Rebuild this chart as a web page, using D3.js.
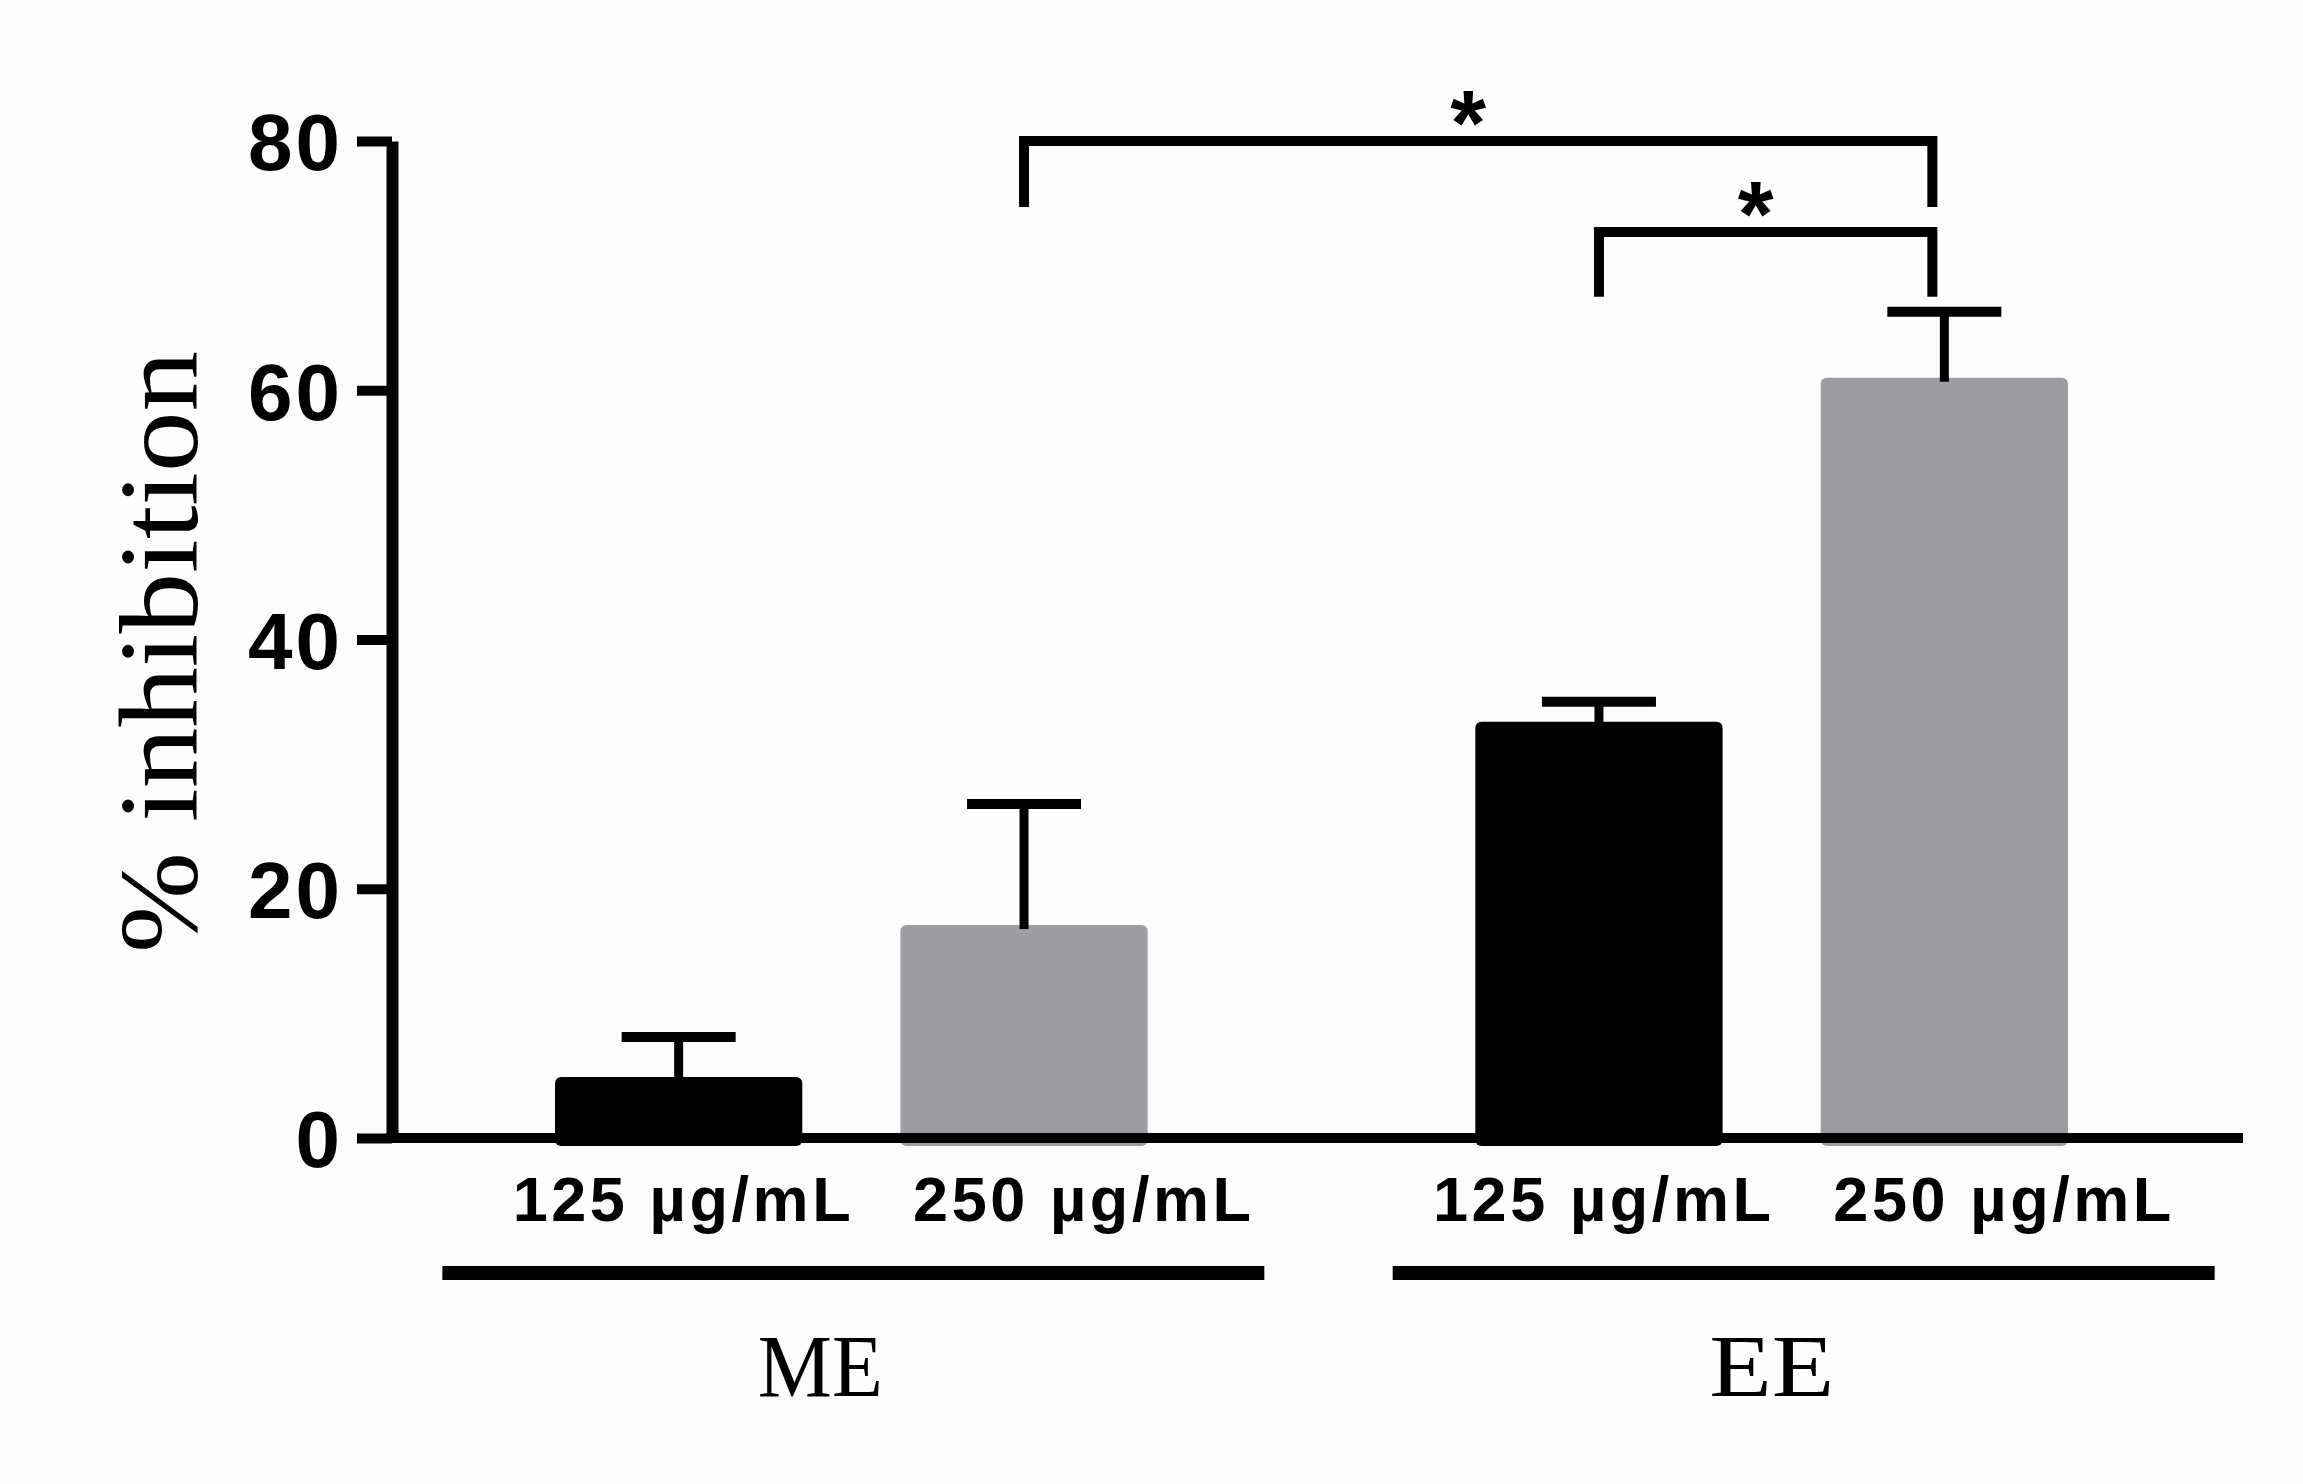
<!DOCTYPE html>
<html>
<head>
<meta charset="utf-8">
<script src="https://cdn.jsdelivr.net/npm/d3@7"></script>
<style>
  body { margin: 0; background: #fdfdfd; }
  svg { display: block; }
</style>
</head>
<body>
<svg id="chart"></svg>
<script>
let groups = ["ME", "EE"]
let doses = ["125 µg/mL", "250 µg/mL"]

// mean % inhibition and SEM, one entry per dose
let me_means = [4.9, 17.1]
let me_errs = [3.2, 9.7]
let ee_means = [33.4, 61.0]
let ee_errs = [1.6, 5.3]

let y_ticks = [0, 20, 40, 60, 80]

// significance brackets: [group, dose] ends, top level and drop level in % units
let brackets = [
    {from: ["ME", "250 µg/mL"], to: ["EE", "250 µg/mL"], top: 80, drop: 74.7, mark: "*"},
    {from: ["EE", "125 µg/mL"], to: ["EE", "250 µg/mL"], top: 72.7, drop: 67.5, mark: "*"}
]

let bar_colors = ["#000000", "#9d9ca1"]

let rows = []
groups.forEach((g, gi) => {
    let means = gi == 0 ? me_means : ee_means
    let errs = gi == 0 ? me_errs : ee_errs
    doses.forEach((d, di) => rows.push({group: g, dose: d, di: di, mean: means[di], err: errs[di]}))
})

let w = 2303, h = 1484
let axis_x = 392, axis_end = 2243

let svg = d3.select("#chart").attr("width", w).attr("height", h)

let y = d3.scaleLinear().domain([0, 80]).range([1138, 141])

let x_group = d3.scaleBand().domain(groups).range([555, 2068]).paddingInner(0.356).paddingOuter(0)
let x_dose = d3.scaleBand().domain(doses).range([0, x_group.bandwidth()]).paddingInner(0.284).paddingOuter(0)

let center = (g, d) => x_group(g) + x_dose(d) + x_dose.bandwidth() / 2

// bars
svg.selectAll(".bar")
    .data(rows)
    .enter()
    .append("rect")
    .attr("class", "bar")
    .attr("x", d => x_group(d.group) + x_dose(d.dose))
    .attr("y", d => y(d.mean))
    .attr("width", x_dose.bandwidth())
    .attr("height", d => y(0) - y(d.mean) + 8)
    .attr("rx", 6)
    .attr("fill", d => bar_colors[d.di])

// error bars (upper only)
let err = svg.selectAll(".err")
    .data(rows)
    .enter()
    .append("g")
    .attr("class", "err")

err.append("line")
    .attr("x1", d => center(d.group, d.dose))
    .attr("x2", d => center(d.group, d.dose))
    .attr("y1", d => y(d.mean) + 4)
    .attr("y2", d => y(d.mean + d.err))
    .attr("stroke", "#000")
    .attr("stroke-width", 9)

err.append("line")
    .attr("x1", d => center(d.group, d.dose) - 57)
    .attr("x2", d => center(d.group, d.dose) + 57)
    .attr("y1", d => y(d.mean + d.err))
    .attr("y2", d => y(d.mean + d.err))
    .attr("stroke", "#000")
    .attr("stroke-width", 10)

// y axis
let y_axis = svg.append("g")
    .attr("transform", `translate(${axis_x},0)`)
    .call(d3.axisLeft(y).tickValues(y_ticks).tickSize(35).tickSizeOuter(0).tickPadding(14))

y_axis.select(".domain").attr("stroke", "#000").attr("stroke-width", 12)
y_axis.selectAll(".tick line").attr("stroke", "#000").attr("stroke-width", 10)
y_axis.selectAll(".tick text")
    .attr("fill", "#000")
    .attr("font-family", "'Liberation Sans', Arial, sans-serif")
    .attr("font-weight", "bold")
    .attr("font-size", 80)
    .attr("letter-spacing", 3)
    .attr("dy", "0.36em")

// x axis line
svg.append("line")
    .attr("x1", axis_x - 6)
    .attr("x2", axis_end)
    .attr("y1", y(0))
    .attr("y2", y(0))
    .attr("stroke", "#000")
    .attr("stroke-width", 10)

// dose labels under each bar
let label_shift = [3, 58]
svg.selectAll(".dose-label")
    .data(rows)
    .enter()
    .append("text")
    .attr("class", "dose-label")
    .attr("x", d => center(d.group, d.dose) + label_shift[d.di])
    .attr("y", 1221)
    .attr("text-anchor", "middle")
    .attr("font-family", "'Liberation Sans', Arial, sans-serif")
    .attr("font-weight", "bold")
    .attr("font-size", 63)
    .attr("textLength", 338)
    .attr("lengthAdjust", "spacing")
    .text(d => d.dose)

// group underline bars and names
let line_shift = [2, 32]
let name_shift = [-31, 0]
let group_g = svg.selectAll(".group")
    .data(groups)
    .enter()
    .append("g")
    .attr("class", "group")

group_g.append("line")
    .attr("x1", (g, i) => x_group(g) + x_group.bandwidth() / 2 - 411 + line_shift[i])
    .attr("x2", (g, i) => x_group(g) + x_group.bandwidth() / 2 + 411 + line_shift[i])
    .attr("y1", 1273)
    .attr("y2", 1273)
    .attr("stroke", "#000")
    .attr("stroke-width", 14)

group_g.append("text")
    .attr("x", (g, i) => x_group(g) + x_group.bandwidth() / 2 + name_shift[i])
    .attr("y", 1396)
    .attr("text-anchor", "middle")
    .attr("font-family", "'Liberation Serif', 'Times New Roman', serif")
    .attr("font-size", 88)
    .attr("textLength", 125)
    .attr("lengthAdjust", "spacingAndGlyphs")
    .text(g => g)

// y axis title
svg.append("text")
    .attr("transform", "translate(197,652) rotate(-90)")
    .attr("text-anchor", "middle")
    .attr("font-family", "'Liberation Serif', 'Times New Roman', serif")
    .attr("font-size", 112)
    .attr("textLength", 602)
    .attr("lengthAdjust", "spacingAndGlyphs")
    .text("% inhibition")

// significance brackets
let br = svg.selectAll(".bracket")
    .data(brackets)
    .enter()
    .append("g")
    .attr("class", "bracket")

br.append("path")
    .attr("d", d => {
        let x1 = center(...d.from)
        let x2 = center(...d.to) - 12
        return `M${x1},${y(d.drop)}V${y(d.top)}H${x2}V${y(d.drop)}`
    })
    .attr("fill", "none")
    .attr("stroke", "#000")
    .attr("stroke-width", 10)
    .attr("stroke-linejoin", "miter")

br.append("text")
    .attr("x", d => (center(...d.from) + center(...d.to) - 12) / 2 - 10)
    .attr("y", d => y(d.top) + 14)
    .attr("text-anchor", "middle")
    .attr("font-family", "'Liberation Sans', Arial, sans-serif")
    .attr("font-weight", "bold")
    .attr("font-size", 92)
    .text(d => d.mark)
</script>
</body>
</html>
